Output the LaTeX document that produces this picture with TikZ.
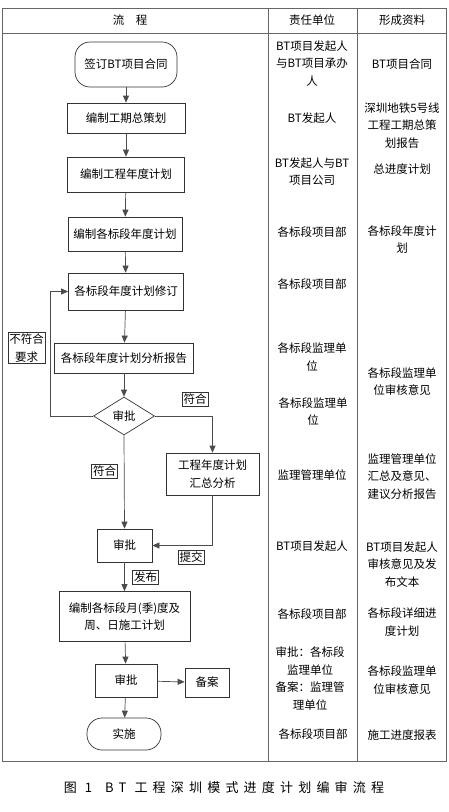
\documentclass[tikz,border=0pt]{standalone}
\usepackage{fontspec}
\setmainfont{Noto Sans CJK SC}
\newfontfamily\capfont[LetterSpace=40]{Noto Sans CJK SC}
\usetikzlibrary{arrows.meta,shapes.geometric}

\begin{document}
\begin{tikzpicture}[
  x=1pt,y=-1pt,
  box/.style={draw=black!80,line width=0.7pt,align=center,inner sep=2pt},
  term/.style={box,rounded corners=15pt},
  choice/.style={draw=black!80,line width=0.7pt,diamond,aspect=1.6,inner sep=1pt},
  tag/.style={draw=black!80,line width=0.5pt,inner sep=1.5pt,align=center,fill=white},
  flow/.style={-{Triangle[length=7pt,width=6pt]},draw=black!70,line width=0.7pt},
  cell/.style={align=center,inner sep=0pt},
  rule/.style={draw=black!60,line width=0.9pt},
  every node/.append style={font=\fontsize{11.5}{17.5}\selectfont}
]
  \useasboundingbox (0,0) rectangle (448,812);

  % table frame
  \draw[rule] (2,8) rectangle (446,761);
  \draw[rule] (2,33) -- (446,33);
  \draw[rule] (268,8) -- (268,761);
  \draw[rule] (357,8) -- (357,761);
  \node[cell] (hflow) at (130,20.5) {流\quad 程};
  \node[cell] (hunit) at (312,20.5) {责任单位};
  \node[cell] (hdoc) at (402,20.5) {形成资料};

  % flow column
  \node[term,minimum width=102pt,minimum height=45pt] (sign) at (126,64.5) {签订BT项目合同};
  \node[box,minimum width=118pt,minimum height=30pt] (master) at (126,118) {编制工期总策划};
  \node[box,minimum width=117pt,minimum height=35pt] (annual) at (126,174.5) {编制工程年度计划};
  \node[box,minimum width=114pt,minimum height=34pt] (section) at (125,234) {编制各标段年度计划};
  \node[box,minimum width=115pt,minimum height=37pt] (revise) at (126,291.5) {各标段年度计划修订};
  \node[box,minimum width=139pt,minimum height=30pt] (report) at (124,358) {各标段年度计划分析报告};
  \node[choice,minimum width=61pt,minimum height=38pt] (check) at (124,416) {审批};
  \node[box,minimum width=93pt,minimum height=42pt] (summary) at (212.5,474) {工程年度计划\\汇总分析};
  \node[box,minimum width=55pt,minimum height=33pt] (approve) at (124.5,545.5) {审批};
  \node[box,minimum width=131pt,minimum height=50pt] (monthly) at (124.5,616.5) {编制各标段月(季)度及\\周、日施工计划};
  \node[box,minimum width=62pt,minimum height=33pt] (approvetwo) at (126,680.5) {审批};
  \node[box,minimum width=44pt,minimum height=29pt] (filing) at (207,682.5) {备案};
  \node[term,minimum width=74pt,minimum height=32pt] (carry) at (124,734) {实施};

  \coordinate (back) at (50,416);

  \draw[flow] (sign) -- (master);
  \draw[flow] (master) -- (annual);
  \draw[flow] (annual) -- (section);
  \draw[flow] (section) -- (revise);
  \draw[flow] (revise) -- (report);
  \draw[flow] (report) -- (check);
  \draw[flow] (check.west) -- (back) |- (revise.west);
  \draw[flow] (check.east) -| (summary.north);
  \draw[flow] (check.south) -- (approve.north);
  \draw[flow] (summary.south) |- (approve.east);
  \draw[flow] (approve) -- (monthly);
  \draw[flow] (monthly) -- (approvetwo);
  \draw[flow] (approvetwo) -- (filing);
  \draw[flow] (approvetwo) -- (carry);

  \node[tag] (reject) at (26.5,348) {不符合\\要求};
  \node[tag] (passright) at (195,399) {符合};
  \node[tag] (passdown) at (104.5,471) {符合};
  \node[tag] (submit) at (191,557) {提交};
  \node[tag] (publish) at (145.5,577) {发布};

  % responsible units
  \node[cell] (unita) at (312,63.5) {BT项目发起人\\与BT项目承办\\人};
  \node[cell] (unitb) at (312,118) {BT发起人};
  \node[cell] (unitc) at (312,171.5) {BT发起人与BT\\项目公司};
  \node[cell] (unitd) at (312,232) {各标段项目部};
  \node[cell] (unite) at (312,284) {各标段项目部};
  \node[cell] (unitf) at (312,357) {各标段监理单\\位};
  \node[cell] (unitg) at (313,411.5) {各标段监理单\\位};
  \node[cell] (unith) at (312,475) {监理管理单位};
  \node[cell] (uniti) at (312,546) {BT项目发起人};
  \node[cell] (unitj) at (312,614) {各标段项目部};
  \node[cell] (unitk) at (310,678.5) {审批：各标段\\监理单位\\备案：监理管\\理单位};
  \node[cell] (unitl) at (313,734) {各标段项目部};

  % documents produced
  \node[cell] (doca) at (402,64) {BT项目合同};
  \node[cell] (docb) at (402,125.5) {深圳地铁5号线\\工程工期总策\\划报告};
  \node[cell] (docc) at (402,169) {总进度计划};
  \node[cell] (docd) at (402,239.5) {各标段年度计\\划};
  \node[cell] (doce) at (402,381.5) {各标段监理单\\位审核意见};
  \node[cell] (docf) at (402,476.5) {监理管理单位\\汇总及意见、\\建议分析报告};
  \node[cell] (docg) at (402,564.5) {BT项目发起人\\审核意见及发\\布文本};
  \node[cell] (doch) at (402,622) {各标段详细进\\度计划};
  \node[cell] (doci) at (402,680) {各标段监理单\\位审核意见};
  \node[cell] (docj) at (402,735) {施工进度报表};

  \node[cell,font=\fontsize{13}{15}\capfont] (caption) at (224,788) {图 1\quad BT 工程深圳模式进度计划编审流程};
\end{tikzpicture}
\end{document}
